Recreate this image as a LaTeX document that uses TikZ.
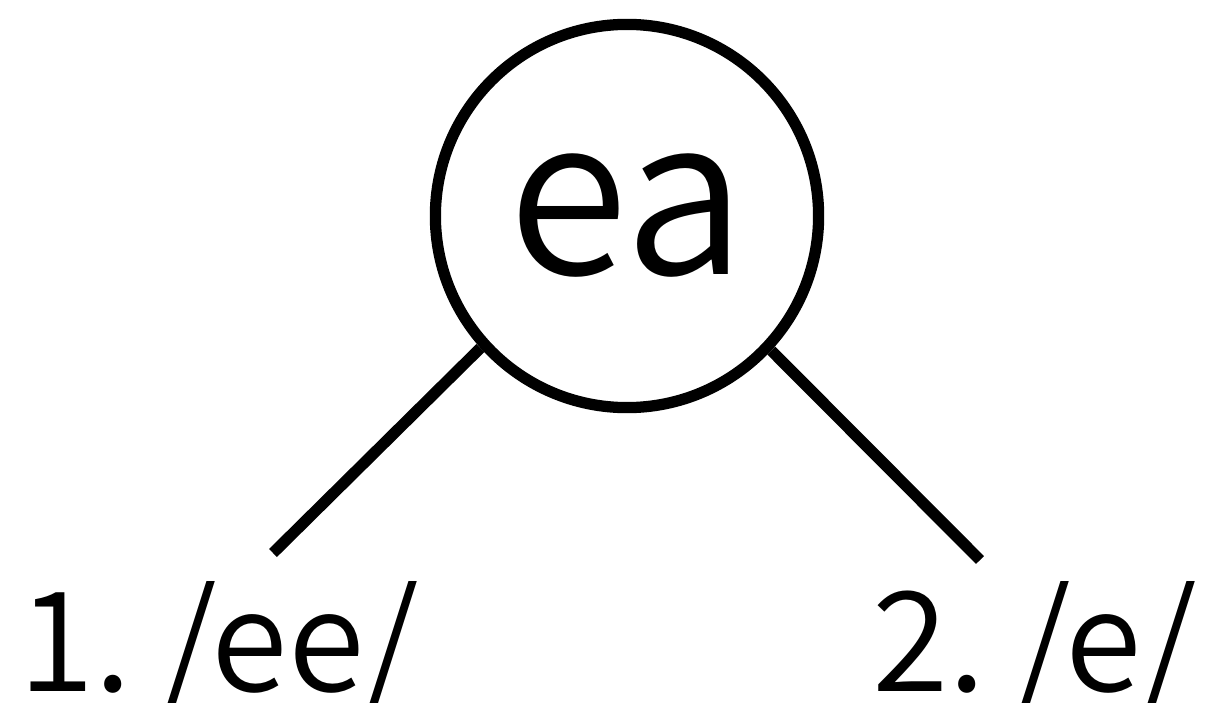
\documentclass[tikz,border=0pt]{standalone}
\usepackage{fontspec}
\setmainfont{Noto Sans CJK JP}[UprightFont={* DemiLight}]
\begin{document}
\begin{tikzpicture}[x=0.01cm,y=-0.01cm,
  every node/.style={inner sep=0pt},
  branch/.style={line width=3.2pt}]
  % frame
  \useasboundingbox (0,0) rectangle (1211,703);

  % root
  \node[draw, circle, line width=3.2pt, minimum size=3.83cm,
        font=\fontsize{62}{66}\selectfont] (ea) at (627,216) {ea};

  % leaves
  \node[anchor=base west, font=\fontsize{39.5}{44}\selectfont] (ee) at (18,691) {1.\hspace{-0.08em} /ee/};
  \node[anchor=base west, font=\fontsize{39.5}{44}\selectfont] (e) at (872,691) {2.\hspace{-0.08em} /e/};

  % branch ends
  \coordinate (eeTop) at (273,553);
  \coordinate (eTop) at (980,560);

  \draw[branch] (ea.-138) -- (eeTop);
  \draw[branch] (ea.-43) -- (eTop);
\end{tikzpicture}
\end{document}
